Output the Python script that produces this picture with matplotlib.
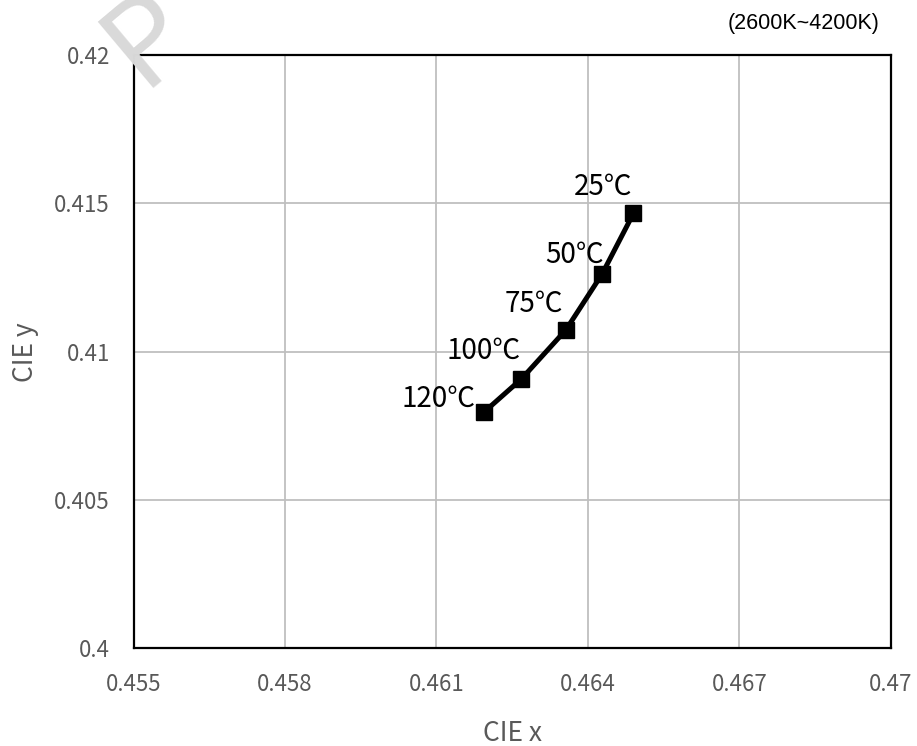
import matplotlib
matplotlib.use("Agg")
import matplotlib.pyplot as plt

plt.rcParams['font.family'] = ['Noto Sans CJK KR', 'DejaVu Sans']

# CIE coordinates vs. temperature
temps = ['25℃', '50℃', '75℃', '100℃', '120℃']
cie_x = [0.46490, 0.46428, 0.46356, 0.46268, 0.46195]
cie_y = [0.41466, 0.41262, 0.41073, 0.40908, 0.40798]

x_ticks = [0.455, 0.458, 0.461, 0.464, 0.467, 0.47]
x_tick_labels = ['0.455', '0.458', '0.461', '0.464', '0.467', '0.47']
y_ticks = [0.4, 0.405, 0.41, 0.415, 0.42]
y_tick_labels = ['0.4', '0.405', '0.41', '0.415', '0.42']

fig = plt.figure(figsize=(9.17, 7.46), dpi=100)
ax = fig.add_axes([0.1456, 0.1307, 0.8260, 0.7956])

ax.plot(cie_x, cie_y, color='black', lw=3.6, marker='s', ms=11,
        solid_joinstyle='round', zorder=3)

# label offsets in points (left/above of each marker)
offsets = [(-22, 19), (-20, 14), (-23, 19), (-27, 20), (-33, 9)]
for t, x, y, off in zip(temps, cie_x, cie_y, offsets):
    ax.annotate(t, (x, y), xytext=off, textcoords='offset points',
                ha='center', va='center', fontsize=20, color='black')

ax.set_xlim(0.455, 0.47)
ax.set_ylim(0.4, 0.42)
ax.set_xticks(x_ticks)
ax.set_xticklabels(x_tick_labels)
ax.set_yticks(y_ticks)
ax.set_yticklabels(y_tick_labels)
ax.tick_params(length=0, labelsize=16, labelcolor='#595959')
ax.tick_params(axis='y', pad=17)
ax.tick_params(axis='x', pad=18)
ax.grid(True, color='#bfbfbf', lw=1.3)
ax.set_axisbelow(True)
for s in ax.spines.values():
    s.set_color('black')
    s.set_linewidth(1.6)

ax.set_xlabel('CIE x', fontsize=19, color='#595959', va='center')
ax.set_ylabel('CIE y', fontsize=19, color='#595959', va='center')
ax.xaxis.set_label_coords(0.5, -0.144)
ax.yaxis.set_label_coords(-0.143, 0.5)

fig.text(0.959, 0.969, '(2600K~4200K)', ha='right', va='center',
         fontsize=15.5, family='Liberation Sans', color='black')

# faint watermark letter
fig.text(0.1538, 0.882, 'P', ha='left', va='baseline', fontsize=85,
         rotation=40, rotation_mode='anchor', color='#d9d9d9',
         fontweight='light', zorder=0)

fig.savefig('out.png', dpi=100)
